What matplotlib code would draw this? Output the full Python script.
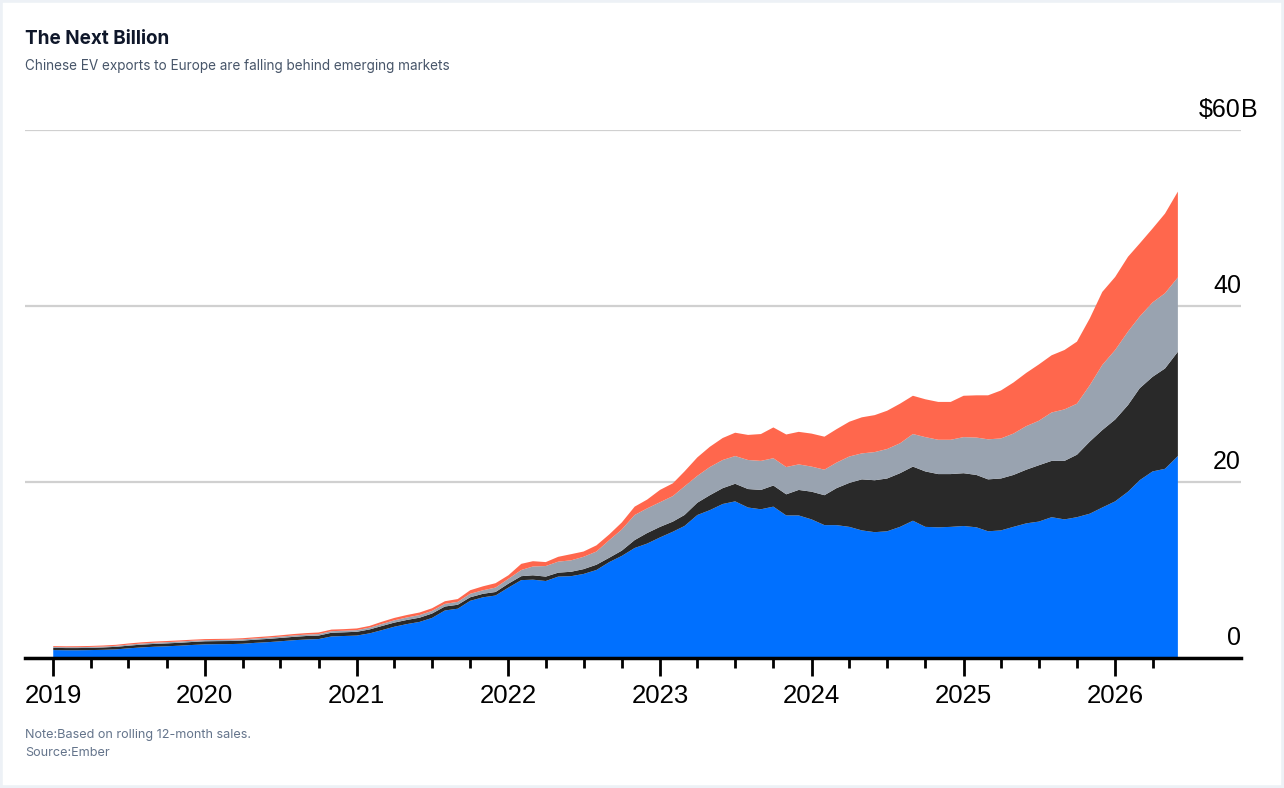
import matplotlib
matplotlib.use('Agg')
import matplotlib.pyplot as plt
import matplotlib.dates as mdates
import matplotlib.transforms as mtransforms
from matplotlib.patches import Rectangle
import pandas as pd

# monthly, Jan 2019 .. Jun 2026, rolling 12-month value in $B
months = pd.date_range('2019-01-01', '2026-06-01', freq='MS')

europe = [0.90, 0.88, 0.88, 0.90, 0.93, 0.98, 1.10, 1.20, 1.28, 1.33, 1.40, 1.48,
          1.55, 1.57, 1.58, 1.62, 1.72, 1.80, 1.90, 2.02, 2.10, 2.15, 2.45, 2.50,
          2.55, 2.80, 3.15, 3.55, 3.85, 4.10, 4.55, 5.40, 5.60, 6.50, 6.90, 7.10,
          8.00, 8.85, 8.90, 8.75, 9.25, 9.30, 9.55, 10.00, 10.90, 11.60, 12.50, 13.00,
          13.70, 14.35, 15.00, 16.25, 16.80, 17.50, 17.80, 17.10, 16.90, 17.20, 16.20, 16.20,
          15.75, 15.10, 15.10, 14.90, 14.50, 14.30, 14.40, 14.90, 15.60, 14.90, 14.85, 14.90,
          15.00, 14.85, 14.40, 14.50, 14.90, 15.30, 15.50, 16.00, 15.75, 16.00, 16.40, 17.10,
          17.80, 18.90, 20.20, 21.20, 21.50, 22.95]
market_b = [0.25, 0.25, 0.25, 0.25, 0.27, 0.29, 0.30, 0.32, 0.32, 0.33, 0.33, 0.34,
            0.35, 0.35, 0.35, 0.36, 0.36, 0.37, 0.38, 0.38, 0.40, 0.40, 0.42, 0.42,
            0.43, 0.45, 0.47, 0.47, 0.47, 0.48, 0.50, 0.45, 0.45, 0.40, 0.40, 0.40,
            0.45, 0.45, 0.50, 0.50, 0.45, 0.50, 0.55, 0.60, 0.50, 0.60, 0.90, 1.20,
            1.20, 1.15, 1.25, 1.40, 1.70, 1.80, 2.00, 2.10, 2.20, 2.40, 2.40, 2.90,
            3.15, 3.40, 4.20, 5.00, 5.80, 5.90, 6.00, 6.10, 6.15, 6.30, 6.05, 6.00,
            6.00, 5.95, 5.90, 5.90, 5.90, 6.10, 6.40, 6.40, 6.65, 7.10, 8.20, 8.80,
            9.30, 9.85, 10.45, 10.75, 11.40, 11.85]
market_c = [0.10, 0.10, 0.10, 0.11, 0.10, 0.11, 0.12, 0.12, 0.13, 0.14, 0.14, 0.14,
            0.13, 0.13, 0.14, 0.14, 0.14, 0.15, 0.15, 0.16, 0.16, 0.17, 0.18, 0.18,
            0.19, 0.20, 0.23, 0.26, 0.28, 0.30, 0.30, 0.30, 0.33, 0.40, 0.40, 0.50,
            0.55, 0.70, 1.00, 1.20, 1.25, 1.30, 1.40, 1.50, 2.00, 2.40, 2.85, 2.80,
            2.80, 2.90, 3.25, 3.05, 3.20, 3.20, 3.15, 3.30, 3.30, 3.10, 3.10, 2.90,
            2.85, 2.90, 2.90, 3.00, 2.95, 3.20, 3.35, 3.40, 3.70, 3.90, 3.90, 3.90,
            4.10, 4.25, 4.55, 4.55, 4.70, 4.95, 5.05, 5.50, 5.85, 5.80, 6.40, 7.40,
            7.90, 8.35, 8.15, 8.45, 8.55, 8.45]
market_d = [0.10, 0.10, 0.11, 0.11, 0.12, 0.12, 0.13, 0.14, 0.14, 0.13, 0.13, 0.12,
            0.12, 0.12, 0.12, 0.13, 0.14, 0.14, 0.15, 0.16, 0.17, 0.18, 0.18, 0.18,
            0.19, 0.20, 0.25, 0.27, 0.28, 0.29, 0.30, 0.30, 0.32, 0.40, 0.45, 0.50,
            0.40, 0.70, 0.60, 0.45, 0.55, 0.70, 0.60, 0.70, 0.65, 0.80, 0.95, 1.00,
            1.40, 1.45, 1.70, 2.10, 2.30, 2.50, 2.65, 2.85, 3.05, 3.50, 3.70, 3.70,
            3.75, 3.75, 3.80, 3.95, 4.10, 4.20, 4.35, 4.50, 4.35, 4.30, 4.30, 4.30,
            4.70, 4.80, 5.00, 5.45, 5.80, 6.05, 6.40, 6.50, 6.75, 7.05, 7.60, 8.30,
            8.30, 8.50, 8.30, 8.40, 9.05, 9.75]

colors = ['#0070FF', '#292929', '#99A3B0', '#FF674D']
y_ticks = [0, 20, 40, 60]
y_labels = ['0', '20', '40', '$60']

fig = plt.figure(figsize=(12.84, 7.88), dpi=100)
fig.patch.set_facecolor('white')
fig.patches.append(Rectangle((0, 0), 1, 1, transform=fig.transFigure,
                             fill=False, edgecolor='#EDF1F6', linewidth=4))

ax = fig.add_axes([25 / 1284, 1 - 658 / 788, 1216 / 1284, 528 / 788])
ax.stackplot(months, europe, market_b, market_c, market_d,
             colors=colors, linewidth=0, zorder=2)

ax.set_xlim(pd.Timestamp('2018-10-25'), pd.Timestamp('2026-10-31'))
ax.set_ylim(0, 60)

for s in ['top', 'right', 'left']:
    ax.spines[s].set_visible(False)
ax.spines['bottom'].set_linewidth(2.5)
ax.spines['bottom'].set_color('black')
ax.spines['bottom'].set_zorder(3)

ax.set_yticks(y_ticks)
ax.yaxis.grid(True, color='#D0D0D0', linewidth=1.6, zorder=0)
ax.set_axisbelow(True)
ax.tick_params(axis='y', length=0, labelleft=False)

offs = mtransforms.ScaledTranslation(0, 8 / 100, fig.dpi_scale_trans)
tr = ax.get_yaxis_transform() + offs
for v, lab in zip(y_ticks, y_labels):
    ax.text(1.0, v, lab.replace('$', r'\$'), transform=tr, ha='right', va='bottom',
            fontsize=18, family='Liberation Sans', color='black')
ax.text(1.0, 60, 'B', transform=tr, ha='left', va='bottom',
        fontsize=18, family='Liberation Sans', color='black')

# ticks only over the span of the data: years major, quarters minor
years = [d for d in months if d.month == 1]
quarters = [d for d in months if d.month in (4, 7, 10)]
ax.set_xticks(years)
ax.set_xticklabels([d.strftime('%Y') for d in years])
ax.set_xticks(quarters, minor=True)
ax.tick_params(axis='x', which='major', length=13, width=2, color='black', pad=6,
               labelsize=18.5)
ax.tick_params(axis='x', which='minor', length=7, width=2, color='black')
for t in ax.get_xticklabels():
    t.set_family('Liberation Sans')

fig.text(25 / 1284, 1 - 44 / 788, 'The Next Billion', fontsize=13.6, fontweight='bold',
         family='Inter', color='#0F172A')
fig.text(25 / 1284, 1 - 70 / 788, 'Chinese EV exports to Europe are falling behind emerging markets',
         fontsize=9.75, family='Inter', color='#475569')
fig.text(25 / 1284, 1 - 738 / 788, 'Note:Based on rolling 12-month sales.',
         fontsize=9.1, family='Inter', color='#64748B')
fig.text(25 / 1284, 1 - 756 / 788, 'Source:Ember',
         fontsize=9.1, family='Inter', color='#64748B')

plt.savefig('out.png', dpi=100)
